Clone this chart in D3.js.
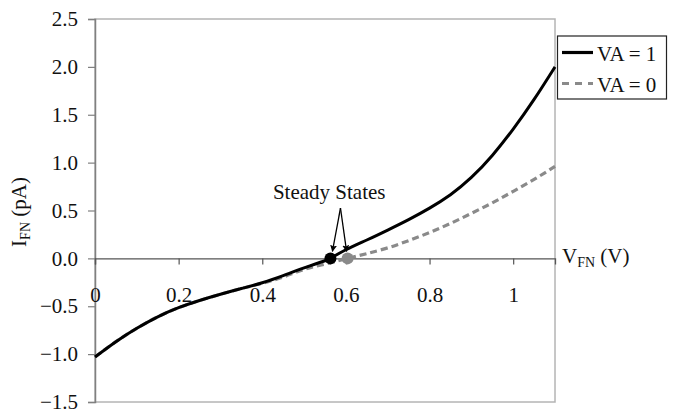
<!DOCTYPE html>
<html>
<head>
<meta charset="utf-8">
<script src="https://cdn.jsdelivr.net/npm/d3@7"></script>
<style>
  html, body { margin: 0; padding: 0; background: #fff; }
  svg { display: block; font-family: "Liberation Serif", "Times New Roman", serif; }
</style>
</head>
<body>
<svg id="chart" width="673" height="412"></svg>
<script>
// Current-voltage curves of the FN model
const vaOneV = [0, 0.05, 0.1, 0.15, 0.2, 0.25, 0.3, 0.35, 0.4, 0.45, 0.5, 0.55, 0.563, 0.6, 0.65, 0.7, 0.75, 0.8, 0.85, 0.9, 0.95, 1.0, 1.05, 1.1];
const vaOneI = [-1.03, -0.87, -0.73, -0.61, -0.515, -0.44, -0.375, -0.315, -0.255, -0.18, -0.10, -0.025, 0, 0.09, 0.192, 0.296, 0.405, 0.525, 0.665, 0.845, 1.075, 1.35, 1.66, 2.0];
const vaZeroV = [0, 0.05, 0.1, 0.15, 0.2, 0.25, 0.3, 0.35, 0.4, 0.45, 0.5, 0.55, 0.604, 0.65, 0.7, 0.75, 0.8, 0.85, 0.9, 0.95, 1.0, 1.05, 1.1];
const vaZeroI = [-1.03, -0.87, -0.73, -0.61, -0.515, -0.44, -0.375, -0.315, -0.26, -0.195, -0.115, -0.06, 0, 0.05, 0.11, 0.185, 0.27, 0.365, 0.47, 0.58, 0.70, 0.825, 0.96];

// Steady states (where the current crosses zero)
const steadyV = [0.563, 0.604];
const steadyI = [0, 0];
const steadyColors = ["#000000", "#8a8a8a"];

const seriesNames = ["VA = 1", "VA = 0"];
const xTicks = [0, 0.2, 0.4, 0.6, 0.8, 1];
const yTicks = [-1.5, -1.0, -0.5, 0.0, 0.5, 1.0, 1.5, 2.0, 2.5];

const svg = d3.select("#chart");
const plotLeft = 95, plotRight = 555, plotTop = 19, plotBottom = 402;

const x = d3.scaleLinear().domain([0, 1.1]).range([plotLeft, plotRight]);
const y = d3.scaleLinear().domain([-1.5, 2.5]).range([plotBottom, plotTop]);

// plot frame
svg.append("rect")
  .attr("x", plotLeft).attr("y", plotTop)
  .attr("width", plotRight - plotLeft).attr("height", plotBottom - plotTop)
  .attr("fill", "none").attr("stroke", "#b4b4b4").attr("stroke-width", 1.5);

// y axis
const yAxis = svg.append("g")
  .attr("transform", `translate(${plotLeft},0)`)
  .call(d3.axisLeft(y).tickValues(yTicks).tickFormat(d3.format(".1f")).tickSize(7).tickPadding(10));
yAxis.select(".domain").attr("stroke", "#808080").attr("stroke-width", 1.5);
yAxis.selectAll(".tick line").attr("stroke", "#808080").attr("stroke-width", 1.2);
yAxis.selectAll(".tick text")
  .attr("font-family", "Liberation Serif").attr("font-size", 21).attr("fill", "#111");

// x axis through zero current
const xAxis = svg.append("g")
  .attr("transform", `translate(0,${y(0)})`)
  .call(d3.axisBottom(x).tickValues(xTicks).tickFormat(d => d3.format("~g")(d)).tickSize(6).tickPadding(23));
xAxis.select(".domain").attr("stroke", "#555").attr("stroke-width", 1.3);
xAxis.selectAll(".tick line").attr("stroke", "#555").attr("stroke-width", 1.2);
xAxis.selectAll(".tick text")
  .attr("font-family", "Liberation Serif").attr("font-size", 21).attr("fill", "#111");

// curves
const line = d3.line().x(d => x(d[0])).y(d => y(d[1])).curve(d3.curveNatural);
const vaOne = vaOneV.map((v, i) => [v, vaOneI[i]]);
const vaZero = vaZeroV.map((v, i) => [v, vaZeroI[i]]);

svg.append("path").datum(vaZero)
  .attr("d", line).attr("fill", "none")
  .attr("stroke", "#8a8a8a").attr("stroke-width", 3.2)
  .attr("stroke-dasharray", "7,4");
svg.append("path").datum(vaOne)
  .attr("d", line).attr("fill", "none")
  .attr("stroke", "#000").attr("stroke-width", 3);

// steady state markers
svg.selectAll("circle.ss").data(steadyV).join("circle")
  .attr("class", "ss")
  .attr("cx", d => x(d)).attr("cy", (d, i) => y(steadyI[i]))
  .attr("r", 6).attr("fill", (d, i) => steadyColors[i]);

// annotation with arrows
svg.append("defs").append("marker")
  .attr("id", "arrow").attr("viewBox", "0 0 10 10")
  .attr("refX", 9).attr("refY", 5)
  .attr("markerWidth", 7).attr("markerHeight", 9)
  .attr("markerUnits", "userSpaceOnUse")
  .attr("orient", "auto")
  .append("path").attr("d", "M0,0 L10,5 L0,10 L2,5 Z").attr("fill", "#000");

const labelV = 0.56, labelI = 0.62;
const arrowStart = [0.587, 0.526];
svg.append("text")
  .attr("x", x(labelV)).attr("y", y(labelI))
  .attr("text-anchor", "middle")
  .attr("font-size", 21).attr("fill", "#111")
  .text("Steady States");
steadyV.forEach((v, i) => {
  svg.append("line")
    .attr("x1", x(arrowStart[0])).attr("y1", y(arrowStart[1]))
    .attr("x2", x(v) + (i === 0 ? 2 : -1)).attr("y2", y(steadyI[i]) - 7)
    .attr("stroke", "#000").attr("stroke-width", 1.3)
    .attr("marker-end", "url(#arrow)");
});

// axis titles
const yTitle = svg.append("text")
  .attr("transform", "translate(26,212) rotate(-90)")
  .attr("text-anchor", "middle")
  .attr("font-size", 21).attr("fill", "#111");
yTitle.append("tspan").text("I");
yTitle.append("tspan").attr("font-size", 14).attr("dy", 4).text("FN");
yTitle.append("tspan").attr("dy", -4).text(" (pA)");

const xTitle = svg.append("text")
  .attr("x", 562).attr("y", 263)
  .attr("font-size", 21).attr("fill", "#111");
xTitle.append("tspan").text("V");
xTitle.append("tspan").attr("font-size", 14).attr("dy", 4).text("FN");
xTitle.append("tspan").attr("dy", -4).text(" (V)");

// legend
const legend = svg.append("g");
legend.append("rect")
  .attr("x", 557.5).attr("y", 36).attr("width", 109).attr("height", 63)
  .attr("fill", "#fff").attr("stroke", "#222").attr("stroke-width", 1.2);
const legendRows = [52.5, 83.5];
const legendStyles = [
  { stroke: "#000", dash: null },
  { stroke: "#8a8a8a", dash: "7,6" }
];
seriesNames.forEach((name, i) => {
  legend.append("line")
    .attr("x1", 562).attr("x2", 593)
    .attr("y1", legendRows[i]).attr("y2", legendRows[i])
    .attr("stroke", legendStyles[i].stroke).attr("stroke-width", 3.2)
    .attr("stroke-dasharray", legendStyles[i].dash);
  legend.append("text")
    .attr("x", 597).attr("y", legendRows[i] + 8)
    .attr("font-size", 21).attr("fill", "#111")
    .text(name);
});
</script>
</body>
</html>
